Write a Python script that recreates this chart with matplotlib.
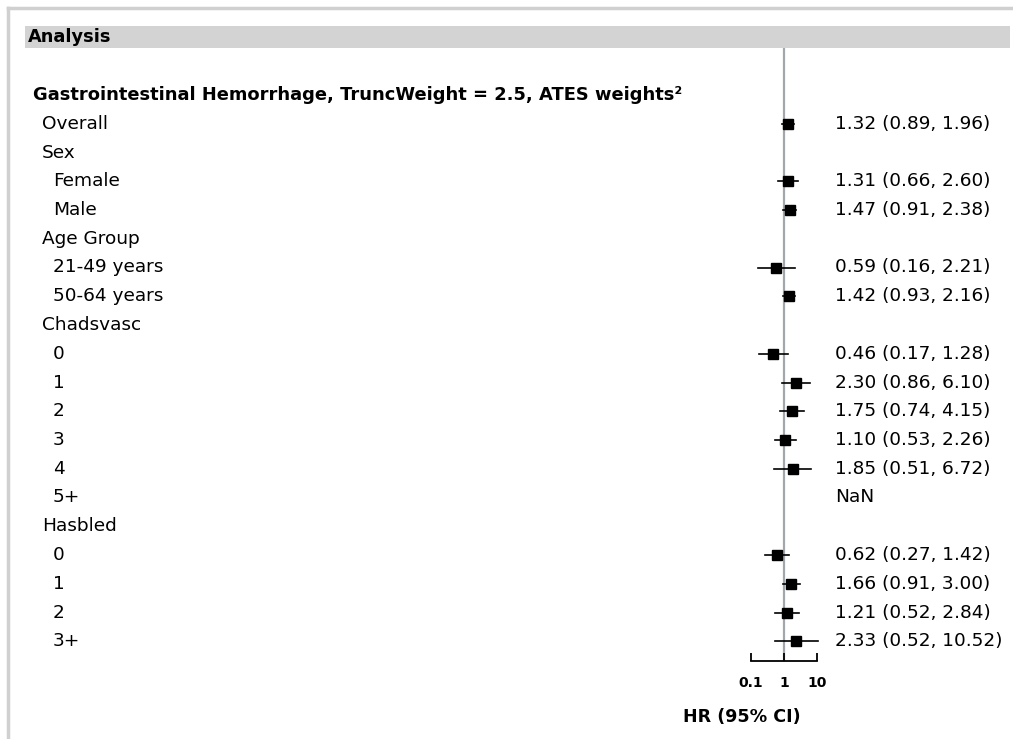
import matplotlib
matplotlib.use("Agg")
import matplotlib.pyplot as plt
import matplotlib.transforms as mtransforms
import numpy as np

plt.rcParams['font.family'] = ['DejaVu Sans']

# ---- data ----
header = "Gastrointestinal Hemorrhage, TruncWeight = 2.5, ATES weights\u00b2"
labels = ["Overall", "Sex", "Female", "Male", "Age Group", "21-49 years", "50-64 years",
          "Chadsvasc", "0", "1", "2", "3", "4", "5+", "Hasbled", "0", "1", "2", "3+"]
levels = [1, 1, 2, 2, 1, 2, 2, 1, 2, 2, 2, 2, 2, 2, 1, 2, 2, 2, 2]
hr = [1.32, None, 1.31, 1.47, None, 0.59, 1.42, None, 0.46, 2.30, 1.75, 1.10, 1.85, None,
      None, 0.62, 1.66, 1.21, 2.33]
lo = [0.89, None, 0.66, 0.91, None, 0.16, 0.93, None, 0.17, 0.86, 0.74, 0.53, 0.51, None,
      None, 0.27, 0.91, 0.52, 0.52]
hi = [1.96, None, 2.60, 2.38, None, 2.21, 2.16, None, 1.28, 6.10, 4.15, 2.26, 6.72, None,
      None, 1.42, 3.00, 2.84, 10.52]
ci_text = ["1.32 (0.89, 1.96)", "", "1.31 (0.66, 2.60)", "1.47 (0.91, 2.38)", "",
           "0.59 (0.16, 2.21)", "1.42 (0.93, 2.16)", "", "0.46 (0.17, 1.28)",
           "2.30 (0.86, 6.10)", "1.75 (0.74, 4.15)", "1.10 (0.53, 2.26)",
           "1.85 (0.51, 6.72)", "NaN", "", "0.62 (0.27, 1.42)", "1.66 (0.91, 3.00)",
           "1.21 (0.52, 2.84)", "2.33 (0.52, 10.52)"]
xticks = [0.1, 1, 10]
xtick_labels = ["0.1", "1", "10"]

W, H = 1013, 739
fig = plt.figure(figsize=(W / 100, H / 100), dpi=100)
fig.patch.set_facecolor("white")

def fx(px):
    return px / W

def fy(py):
    return 1 - py / H

# forest axes: x from 0.1 (751px) to 10 (817px), y from 48px to 661px
ax_left, ax_right = 751, 817
ax_top, ax_bot = 48, 661
ax = fig.add_axes([fx(ax_left), fy(ax_bot), fx(ax_right - ax_left), (ax_bot - ax_top) / H])
ax.set_xscale("log")
ax.set_xlim(0.1, 10)
row0_px, step_px = 95.0, 28.75
ax.set_ylim((ax_bot - row0_px) / step_px, (ax_top - row0_px) / step_px)
ax.patch.set_alpha(0)
for s in ["top", "right", "left"]:
    ax.spines[s].set_visible(False)
ax.spines["bottom"].set_linewidth(1.3)
ax.set_yticks([])
ax.set_xticks(xticks)
ax.set_xticklabels(xtick_labels, fontsize=10, fontweight="bold")
ax.minorticks_off()
ax.tick_params(axis="x", direction="in", length=6, width=1.3, pad=11)

ax.axvline(1, color="#a3a6aa", lw=1.6, zorder=1)

rows = np.arange(1, len(labels) + 1)
for r, h, l, u in zip(rows, hr, lo, hi):
    if h is None:
        continue
    ax.plot([l, u], [r, r], color="black", lw=1.2, zorder=2, clip_on=False)
    ax.plot([h], [r], marker="s", color="black", ms=7.5, zorder=3, clip_on=False)

trans = mtransforms.blended_transform_factory(fig.transFigure, ax.transData)

fs = 13.3
ax.text(fx(33), 0, header, transform=trans, fontsize=12.9, fontweight="bold",
        va="center", ha="left")
indent = {1: 42, 2: 53}
for r, lab, lv, t in zip(rows, labels, levels, ci_text):
    ax.text(fx(indent[lv]), r, lab, transform=trans, fontsize=fs, va="center", ha="left")
    if t:
        ax.text(fx(835), r, t, transform=trans, fontsize=fs, va="center", ha="left")

# header band
fig.patches.append(plt.Rectangle((fx(25), fy(48)), fx(1010 - 25), (48 - 26) / H,
                                 transform=fig.transFigure, facecolor="#d3d3d3",
                                 edgecolor="none", zorder=0))
fig.text(fx(28), fy(37), "Analysis", fontsize=12.8, fontweight="bold", va="center", ha="left")

# outer border lines
fig.add_artist(plt.Line2D([fx(8), fx(1012)], [fy(8), fy(8)], color="#d0d0d0", lw=2.5,
                          transform=fig.transFigure))
fig.add_artist(plt.Line2D([fx(8), fx(8)], [fy(8), fy(739)], color="#d0d0d0", lw=2.5,
                          transform=fig.transFigure))

fig.text(fx(742), fy(717), "HR (95% CI)", fontsize=12.6, fontweight="bold", va="center",
         ha="center")

fig.savefig("out.png", dpi=100, facecolor="white")
